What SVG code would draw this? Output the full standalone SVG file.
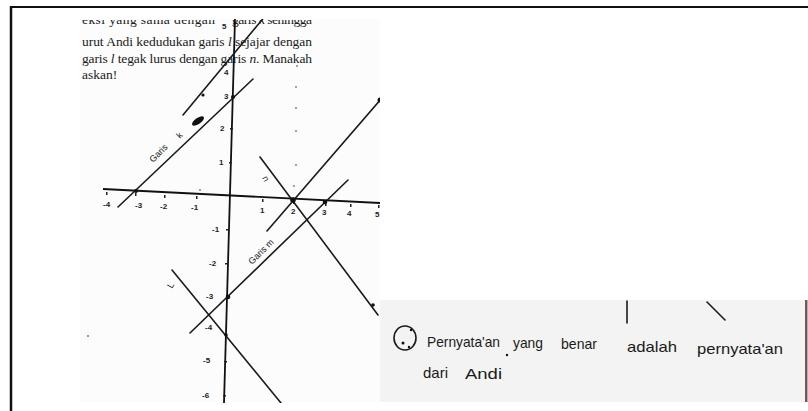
<svg xmlns="http://www.w3.org/2000/svg" width="808" height="411" viewBox="0 0 808 411">
<style>
.pt{font-family:"Liberation Serif",serif;font-size:13.5px;fill:#1a1a1a}
.ln{stroke:#1a1a1a;stroke-width:1.6;fill:none;stroke-linecap:round}
.ax{stroke:#111;stroke-width:1.8;fill:none}
.tk{font-family:"Liberation Sans",sans-serif;font-size:8px;fill:#222;font-weight:bold}
.hw{font-family:"Liberation Sans",sans-serif;font-size:15px;fill:#1a1a1a}
.lb{font-family:"Liberation Sans",sans-serif;font-size:9px;fill:#1a1a1a}
.dot{fill:#111}
</style>
<defs>
<clipPath id="scan1"><rect x="80" y="19" width="300" height="384"/></clipPath>
<clipPath id="cut1"><rect x="80" y="20" width="300" height="20"/></clipPath>
</defs>
<rect width="808" height="411" fill="#fff"/>
<!-- frame -->
<line x1="10" y1="7" x2="808" y2="7" stroke="#111" stroke-width="2"/>
<line x1="11" y1="6" x2="11" y2="411" stroke="#111" stroke-width="2.5"/>
<!-- scan 1 -->
<g id="scan-graph" clip-path="url(#scan1)">
<rect x="80" y="19" width="300" height="384" fill="#fcfcfc"/>
<text class="pt" x="82" y="24" textLength="133" clip-path="url(#cut1)">eksi yang sama dengan</text>
<text class="pt" x="232" y="24" textLength="80" clip-path="url(#cut1)">garis <tspan font-style="italic">k</tspan> sehingga</text>
<text class="pt" x="82" y="46" textLength="230">urut Andi kedudukan garis <tspan font-style="italic">l</tspan> sejajar dengan</text>
<text class="pt" x="82" y="63" textLength="230">garis <tspan font-style="italic">l</tspan> tegak lurus dengan garis <tspan font-style="italic">n</tspan>. Manakah</text>
<text class="pt" x="82" y="79">askan!</text>
<!-- axes -->
<line class="ax" x1="235" y1="19" x2="224" y2="403"/>
<line class="ax" x1="103" y1="189" x2="380" y2="203"/>
<!-- x ticks -->
<g fill="#222">
<rect x="106" y="192" width="1.5" height="3"/><rect x="135" y="193" width="1.5" height="3"/><rect x="164" y="195" width="1.5" height="3"/><rect x="196" y="196" width="1.5" height="3"/>
<rect x="262" y="199" width="1.5" height="3"/><rect x="293" y="201" width="1.5" height="3"/><rect x="325" y="203" width="1.5" height="3"/><rect x="350" y="204" width="1.5" height="3"/><rect x="378" y="205" width="1.5" height="3"/>
</g>
<text class="tk" x="103" y="207">-4</text>
<text class="tk" x="135" y="208">-3</text>
<text class="tk" x="160" y="209">-2</text>
<text class="tk" x="191" y="210">-1</text>
<text class="tk" x="260" y="213">1</text>
<text class="tk" x="291" y="214">2</text>
<text class="tk" x="322" y="215">3</text>
<text class="tk" x="347" y="216">4</text>
<text class="tk" x="375" y="217">5</text>
<!-- y labels -->
<text class="tk" x="222" y="29">5</text>
<text class="tk" x="224" y="75">4</text>
<text class="tk" x="224" y="99">3</text>
<text class="tk" x="220" y="131">2</text>
<text class="tk" x="219" y="165">1</text>
<text class="tk" x="212" y="232">-1</text>
<text class="tk" x="209" y="266">-2</text>
<text class="tk" x="206" y="299">-3</text>
<text class="tk" x="205" y="330">-4</text>
<text class="tk" x="203" y="363">-5</text>
<text class="tk" x="202" y="398">-6</text>
<g fill="#222">
<rect x="230" y="128" width="3" height="1.5"/><rect x="229" y="162" width="3" height="1.5"/><rect x="226" y="229" width="3" height="1.5"/><rect x="225" y="263" width="3" height="1.5"/><rect x="224" y="361" width="3" height="1.5"/><rect x="223" y="395" width="3" height="1.5"/>
</g>
<!-- faint dotted guide -->
<g fill="#777">
<circle cx="297" cy="66" r="0.9"/><circle cx="296" cy="87" r="0.9"/><circle cx="296" cy="108" r="0.9"/><circle cx="296" cy="131" r="0.9"/><circle cx="296" cy="165" r="0.9"/><circle cx="294" cy="186" r="0.9"/><circle cx="200" cy="190" r="0.9"/><circle cx="88" cy="336" r="1"/>
</g>
<!-- lines -->
<line class="ln" x1="118" y1="207" x2="253" y2="79"/>
<line class="ln" x1="183" y1="115" x2="266" y2="15"/>
<line class="ln" x1="260" y1="157" x2="378" y2="315"/>
<line class="ln" x1="267" y1="231" x2="382" y2="98"/>
<line class="ln" x1="190" y1="333" x2="348" y2="180"/>
<line class="ln" x1="172" y1="270" x2="281" y2="403"/>
<!-- points -->
<circle class="dot" cx="136" cy="191" r="2"/>
<circle class="dot" cx="233" cy="97" r="2"/>
<circle class="dot" cx="293" cy="200" r="2.8"/>
<circle class="dot" cx="325" cy="202" r="2.3"/>
<circle class="dot" cx="228" cy="297" r="2.3"/>
<circle class="dot" cx="226" cy="335" r="1.8"/>
<circle class="dot" cx="373" cy="305" r="1.8"/>
<circle class="dot" cx="203" cy="95" r="1.6"/>
<circle class="dot" cx="380" cy="100" r="2.5"/>
<ellipse class="dot" cx="198" cy="121" rx="7" ry="3" transform="rotate(-35 198 121)"/>
<!-- labels -->
<text class="lb" x="153" y="163" transform="rotate(-45 153 163)">Garis</text>
<text class="lb" x="180" y="139" transform="rotate(-45 180 139)">k</text>
<text class="lb" x="252" y="265" transform="rotate(-45 252 265)">Garis m</text>
<text class="lb" x="262" y="178" transform="rotate(60 262 178)">n</text>
<text class="lb" x="172" y="289" transform="rotate(-60 172 289)">L</text>
</g>
<!-- scan 2 -->
<g id="scan-answer">
<rect x="380" y="300" width="425" height="102" fill="#f3f3f3"/>
<rect x="805" y="300" width="2.5" height="102" fill="#6f5a5a"/>
<line class="ln" x1="627" y1="301" x2="627" y2="323"/>
<line class="ln" x1="707" y1="302" x2="725" y2="320"/>
<ellipse cx="405" cy="338" rx="11" ry="12" fill="none" stroke="#1a1a1a" stroke-width="1.6"/>
<circle class="dot" cx="411" cy="330" r="1.2"/>
<circle class="dot" cx="403" cy="343" r="1.5"/>
<circle class="dot" cx="409" cy="347" r="1.2"/>
<text class="hw" x="427" y="347" textLength="73" lengthAdjust="spacingAndGlyphs">Pernyata'an</text>
<circle class="dot" cx="507" cy="355" r="1.2"/>
<text class="hw" x="513" y="348" textLength="30" lengthAdjust="spacingAndGlyphs">yang</text>
<text class="hw" x="561" y="349" textLength="36" lengthAdjust="spacingAndGlyphs">benar</text>
<text class="hw" x="627" y="352" textLength="50" lengthAdjust="spacingAndGlyphs">adalah</text>
<text class="hw" x="697" y="354" textLength="86" lengthAdjust="spacingAndGlyphs">pernyata'an</text>
<text class="hw" x="423" y="378" textLength="25" lengthAdjust="spacingAndGlyphs">dari</text>
<text class="hw" x="465" y="379" textLength="37" lengthAdjust="spacingAndGlyphs">Andi</text>
</g>
</svg>
